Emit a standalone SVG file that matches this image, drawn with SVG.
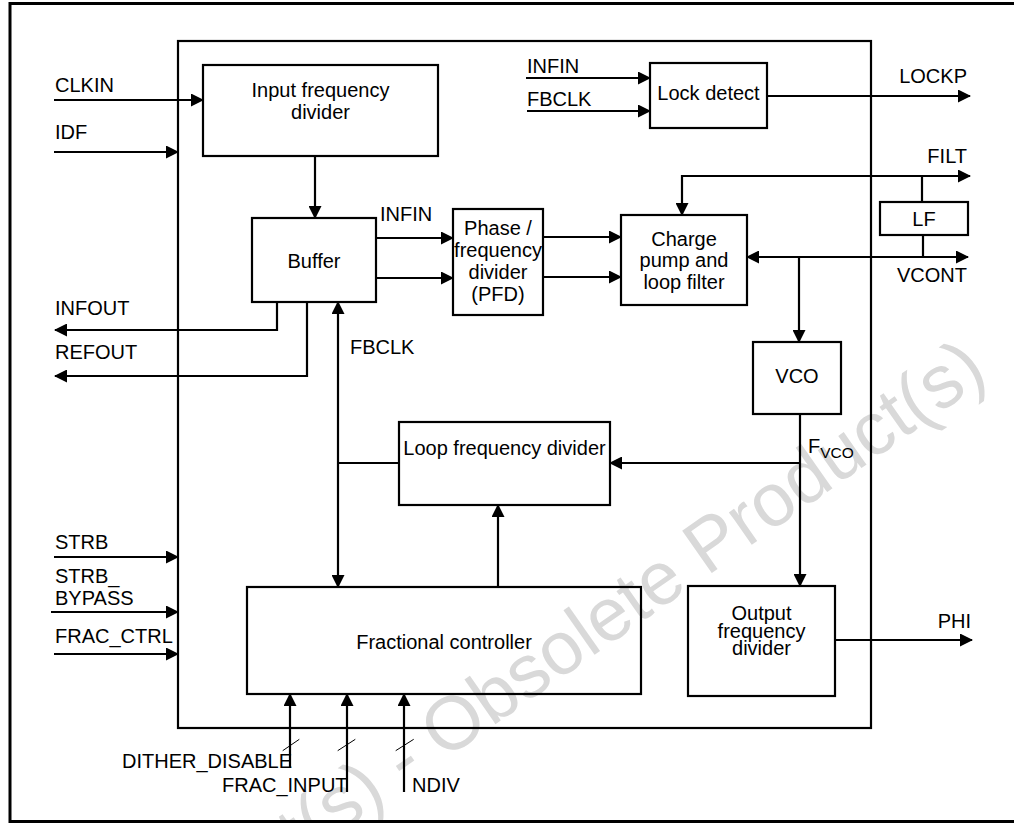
<svg xmlns="http://www.w3.org/2000/svg" width="1014" height="823" viewBox="0 0 1014 823">
<style>
text{font-family:"Liberation Sans",Arial,sans-serif;font-size:20px;fill:#000}
.c{text-anchor:middle}
.e{text-anchor:end}
.box{fill:none;stroke:#000;stroke-width:2.2}
.ln{fill:none;stroke:#000;stroke-width:2.2}
.a{marker-end:url(#ah)}
.s{marker-start:url(#ah)}
.wm{font-size:75px;fill:#d9d9d9}
</style>
<defs>
<marker id="ah" markerUnits="userSpaceOnUse" markerWidth="13" markerHeight="13" refX="12" refY="6.5" orient="auto-start-reverse" viewBox="0 0 13 13">
<path d="M0,0 L13,6.5 L0,13 Z" fill="#000"/>
</marker>
</defs>
<text class="wm e" transform="translate(990,378) rotate(-35)">Obsolete Product(s) - Obsolete Product(s)</text>
<path d="M1014,3.5 H10 V821.5 H1014" fill="none" stroke="#000" stroke-width="3"/>
<g id="chip"><rect class="box" x="178" y="41" width="693" height="687"/></g>
<g id="input-frequency-divider"><rect class="box" x="203" y="65" width="235" height="91"/><text class="c" x="320.5" y="96.5">Input frequency</text><text class="c" x="320.5" y="119">divider</text></g>
<g id="buffer"><rect class="box" x="252" y="218" width="124" height="84"/><text class="c" x="314" y="268">Buffer</text></g>
<g id="pfd"><rect class="box" x="453" y="209" width="90" height="106"/><text class="c" x="498" y="235">Phase /</text><text class="c" x="498" y="257">frequency</text><text class="c" x="498" y="279">divider</text><text class="c" x="498" y="301">(PFD)</text></g>
<g id="lock-detect"><rect class="box" x="650" y="63" width="117" height="65"/><text class="c" x="708.5" y="100">Lock detect</text></g>
<g id="charge-pump"><rect class="box" x="621" y="215" width="126" height="90"/><text class="c" x="684" y="245.5">Charge</text><text class="c" x="684" y="267">pump and</text><text class="c" x="684" y="289">loop filter</text></g>
<g id="lf"><rect class="box" x="880" y="202" width="88" height="33"/><text class="c" x="924" y="226">LF</text></g>
<g id="vco"><rect class="box" x="753" y="342" width="88" height="72"/><text class="c" x="797" y="383">VCO</text></g>
<g id="loop-frequency-divider"><rect class="box" x="399" y="422" width="211" height="83"/><text class="c" x="504.5" y="454.5">Loop frequency divider</text></g>
<g id="fractional-controller"><rect class="box" x="247" y="587" width="394" height="107"/><text class="c" x="444" y="649">Fractional controller</text></g>
<g id="output-frequency-divider"><rect class="box" x="688" y="586" width="147" height="110"/><text class="c" x="761.5" y="620">Output</text><text class="c" x="761.5" y="637.5">frequency</text><text class="c" x="761.5" y="655">divider</text></g>
<g id="connectors">
<path class="ln a" d="M54,100 H203"/>
<path class="ln a" d="M54,152 H178"/>
<path class="ln a" d="M315,156 V218"/>
<path class="ln a" d="M376,238 H453"/>
<path class="ln a" d="M376,278 H453"/>
<path class="ln a" d="M543,237 H621"/>
<path class="ln a" d="M543,277 H621"/>
<path class="ln a" d="M526,78 H650"/>
<path class="ln a" d="M527,111 H650"/>
<path class="ln a" d="M767,96 H970"/>
<path class="ln s a" d="M970,176 H682 V215"/>
<path class="ln" d="M922,176 V202 M923,235 V257"/>
<path class="ln s a" d="M747,257 H968"/>
<path class="ln a" d="M799,257 V342"/>
<path class="ln a" d="M800,414 V586"/>
<path class="ln a" d="M800,463 H610"/>
<path class="ln a" d="M835,640 H972"/>
<path class="ln" d="M399,463 H338"/>
<path class="ln s a" d="M338,587 V302"/>
<path class="ln a" d="M498,587 V505"/>
<path class="ln a" d="M277,302 V330 H55"/>
<path class="ln a" d="M307,302 V376 H55"/>
<path class="ln a" d="M54,557 H178"/>
<path class="ln a" d="M51,612 H178"/>
<path class="ln a" d="M54,654 H178"/>
<path class="ln a" d="M290,768 V694"/>
<path class="ln a" d="M347,792 V694"/>
<path class="ln a" d="M404,792 V694"/>
<path d="M282.7,750.7 L299.3,739.3 M337.7,750.7 L355.3,739.3 M395.7,750.7 L413.7,739.3" stroke="#000" stroke-width="1"/>
</g>
<g id="labels">
<text x="55" y="92">CLKIN</text>
<text x="55" y="139">IDF</text>
<text x="380" y="220.5">INFIN</text>
<text x="55" y="315">INFOUT</text>
<text x="55" y="359">REFOUT</text>
<text x="350" y="354">FBCLK</text>
<text x="55" y="549">STRB</text>
<text x="55" y="583">STRB_</text>
<text x="55" y="605">BYPASS</text>
<text x="55" y="643">FRAC_CTRL</text>
<text x="122" y="768">DITHER_DISABLE</text>
<text x="222" y="792">FRAC_INPUT</text>
<text x="412" y="792">NDIV</text>
<text x="527" y="73">INFIN</text>
<text x="527" y="106">FBCLK</text>
<text class="e" x="967" y="83">LOCKP</text>
<text class="e" x="967" y="163">FILT</text>
<text class="e" x="967" y="282">VCONT</text>
<text class="e" x="971" y="628">PHI</text>
<text x="808" y="453">F<tspan dy="5" font-size="15.5">VCO</tspan></text>
</g>
</svg>
